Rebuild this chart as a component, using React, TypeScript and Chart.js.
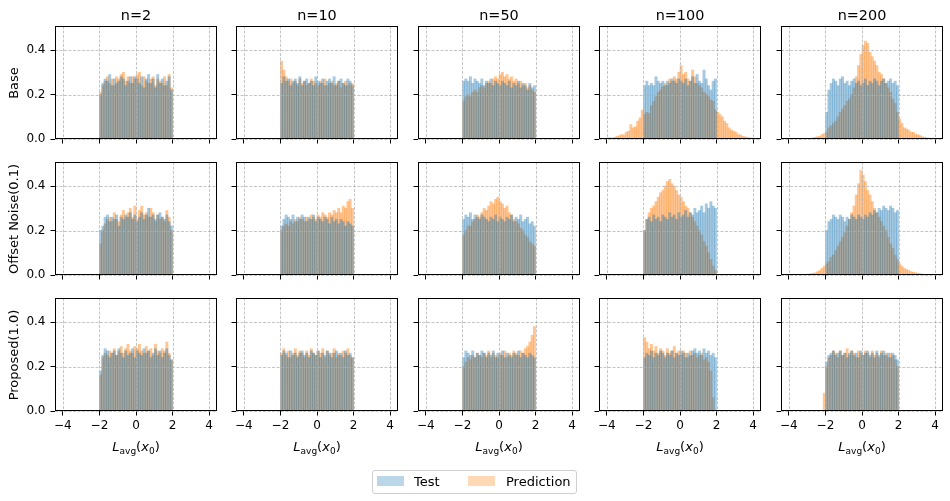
import { useEffect, useRef } from "react";
import { Chart, registerables } from "chart.js";

Chart.register(...registerables);

// ---- histogram settings -------------------------------------------------
const BIN_WIDTH = 0.125;
const COLUMN_TITLES = ["n=2", "n=10", "n=50", "n=100", "n=200"];
const ROW_TITLES = ["Base", "Offset Noise(0.1)", "Proposed(1.0)"];
const X_TICKS = [-4, -2, 0, 2, 4];
const Y_TICKS = [0, 0.2, 0.4];
const X_MIN = -4.43;
const X_MAX = 4.43;
const Y_MAX = 0.508;

// ---- densities (one value per bin, starting at the given left edge) -----
// Base
const BASE_N2_TEST = [0.2, 0.25, 0.27, 0.26, 0.29, 0.24, 0.27, 0.25, 0.26, 0.28, 0.27, 0.24, 0.26, 0.28, 0.25, 0.28, 0.27, 0.25, 0.28, 0.23, 0.27, 0.29, 0.25, 0.27, 0.23, 0.29, 0.25, 0.27, 0.24, 0.26, 0.28, 0.22];
const BASE_N2_PRED = [0.21, 0.24, 0.26, 0.28, 0.25, 0.27, 0.24, 0.28, 0.27, 0.29, 0.3, 0.26, 0.28, 0.25, 0.28, 0.27, 0.29, 0.3, 0.24, 0.28, 0.26, 0.25, 0.27, 0.28, 0.24, 0.27, 0.26, 0.25, 0.28, 0.24, 0.29, 0.23];
const BASE_N10_TEST = [0.25, 0.28, 0.26, 0.27, 0.24, 0.26, 0.27, 0.25, 0.28, 0.24, 0.26, 0.27, 0.25, 0.26, 0.24, 0.28, 0.26, 0.25, 0.27, 0.24, 0.26, 0.27, 0.25, 0.28, 0.24, 0.26, 0.27, 0.25, 0.24, 0.27, 0.26, 0.24];
const BASE_N10_PRED = [0.35, 0.31, 0.28, 0.26, 0.27, 0.25, 0.26, 0.24, 0.27, 0.25, 0.26, 0.24, 0.25, 0.27, 0.26, 0.25, 0.24, 0.26, 0.25, 0.27, 0.24, 0.25, 0.26, 0.24, 0.25, 0.26, 0.23, 0.25, 0.26, 0.24, 0.25, 0.25];
const BASE_N50_TEST = [0.26, 0.27, 0.26, 0.28, 0.25, 0.27, 0.26, 0.25, 0.27, 0.24, 0.26, 0.25, 0.27, 0.24, 0.26, 0.25, 0.24, 0.26, 0.25, 0.24, 0.26, 0.23, 0.25, 0.24, 0.26, 0.23, 0.25, 0.24, 0.22, 0.25, 0.23, 0.24];
const BASE_N50_PRED = [0.17, 0.19, 0.2, 0.19, 0.21, 0.22, 0.21, 0.23, 0.24, 0.23, 0.25, 0.26, 0.25, 0.27, 0.28, 0.27, 0.29, 0.3, 0.28, 0.29, 0.27, 0.28, 0.26, 0.27, 0.25, 0.26, 0.24, 0.25, 0.23, 0.24, 0.22, 0.21];
const BASE_N100_TEST = [0.24, 0.26, 0.24, 0.25, 0.24, 0.28, 0.26, 0.25, 0.26, 0.24, 0.26, 0.25, 0.27, 0.26, 0.25, 0.27, 0.26, 0.25, 0.27, 0.24, 0.26, 0.28, 0.25, 0.29, 0.26, 0.25, 0.31, 0.27, 0.24, 0.22, 0.26, 0.27];
const BASE_N100_PRED = [
  0.005, 0.006, 0.004, 0.008, 0.012, 0.015, 0.02, 0.018, 0.03, 0.035, 0.065, 0.05, 0.055, 0.08, 0.095, 0.13,
  0.11, 0.12, 0.115, 0.15, 0.17, 0.19, 0.21, 0.22, 0.235, 0.25, 0.24, 0.27, 0.26, 0.28, 0.27, 0.3,
  0.33, 0.29, 0.3, 0.27, 0.26, 0.31, 0.28, 0.25, 0.24, 0.23, 0.21, 0.2, 0.19, 0.175, 0.17, 0.13,
  0.12, 0.11, 0.1, 0.08, 0.07, 0.05, 0.04, 0.035, 0.03, 0.02, 0.018, 0.012, 0.01, 0.007, 0.005, 0.004,
];
const BASE_N200_TEST = [0.12, 0.22, 0.25, 0.27, 0.26, 0.24, 0.27, 0.28, 0.25, 0.26, 0.24, 0.26, 0.27, 0.25, 0.26, 0.24, 0.25, 0.27, 0.24, 0.26, 0.25, 0.27, 0.26, 0.24, 0.26, 0.27, 0.25, 0.26, 0.27, 0.25, 0.26, 0.24];
const BASE_N200_PRED = [
  0.005, 0.008, 0.01, 0.012, 0.02, 0.025,
  0.03, 0.05, 0.06, 0.07, 0.08, 0.1, 0.12, 0.135, 0.15, 0.17, 0.18, 0.2, 0.23, 0.28, 0.33, 0.38,
  0.42, 0.44, 0.43, 0.39, 0.37, 0.35, 0.33, 0.3, 0.29, 0.27, 0.25, 0.23, 0.21, 0.18, 0.16, 0.12,
  0.09, 0.07, 0.05, 0.045, 0.04, 0.03, 0.03, 0.02, 0.02, 0.015, 0.01, 0.008, 0.005, 0.004,
];

// Offset Noise(0.1)
const NOISE_N2_TEST = [0.2, 0.22, 0.26, 0.27, 0.24, 0.26, 0.25, 0.27, 0.22, 0.26, 0.25, 0.27, 0.26, 0.28, 0.25, 0.27, 0.24, 0.26, 0.28, 0.25, 0.27, 0.3, 0.26, 0.27, 0.25, 0.27, 0.28, 0.26, 0.25, 0.27, 0.24, 0.22];
const NOISE_N2_PRED = [0.14, 0.2, 0.23, 0.25, 0.26, 0.24, 0.28, 0.25, 0.24, 0.27, 0.29, 0.26, 0.28, 0.3, 0.26, 0.31, 0.25, 0.29, 0.31, 0.27, 0.28, 0.26, 0.3, 0.28, 0.24, 0.27, 0.25, 0.26, 0.24, 0.29, 0.26, 0.2];
const NOISE_N10_TEST = [0.22, 0.25, 0.27, 0.26, 0.25, 0.27, 0.24, 0.26, 0.25, 0.27, 0.26, 0.24, 0.26, 0.25, 0.27, 0.24, 0.26, 0.25, 0.24, 0.26, 0.25, 0.23, 0.26, 0.24, 0.25, 0.23, 0.25, 0.24, 0.22, 0.24, 0.23, 0.22];
const NOISE_N10_PRED = [0.2, 0.22, 0.23, 0.22, 0.24, 0.23, 0.25, 0.24, 0.26, 0.25, 0.24, 0.26, 0.25, 0.27, 0.26, 0.25, 0.27, 0.26, 0.28, 0.27, 0.26, 0.28, 0.27, 0.29, 0.28, 0.3, 0.28, 0.31, 0.3, 0.33, 0.34, 0.3];
const NOISE_N50_TEST = [0.25, 0.27, 0.26, 0.28, 0.25, 0.27, 0.26, 0.25, 0.27, 0.26, 0.25, 0.24, 0.26, 0.25, 0.27, 0.24, 0.26, 0.25, 0.24, 0.26, 0.25, 0.27, 0.24, 0.26, 0.25, 0.27, 0.24, 0.25, 0.26, 0.23, 0.24, 0.22];
const NOISE_N50_PRED = [0.18, 0.2, 0.22, 0.22, 0.24, 0.25, 0.27, 0.26, 0.28, 0.3, 0.29, 0.31, 0.33, 0.32, 0.34, 0.35, 0.33, 0.32, 0.3, 0.31, 0.28, 0.27, 0.25, 0.24, 0.23, 0.21, 0.2, 0.18, 0.17, 0.15, 0.14, 0.13];
const NOISE_N100_TEST = [0.2, 0.25, 0.26, 0.24, 0.27, 0.25, 0.26, 0.24, 0.27, 0.26, 0.25, 0.28, 0.26, 0.27, 0.25, 0.28, 0.26, 0.27, 0.29, 0.26, 0.28, 0.27, 0.3, 0.28, 0.29, 0.31, 0.28, 0.32, 0.3, 0.33, 0.31, 0.3];
const NOISE_N100_PRED = [0.2, 0.25, 0.28, 0.3, 0.31, 0.33, 0.35, 0.37, 0.38, 0.4, 0.42, 0.43, 0.41, 0.4, 0.38, 0.36, 0.35, 0.33, 0.31, 0.3, 0.28, 0.26, 0.24, 0.22, 0.2, 0.18, 0.15, 0.13, 0.1, 0.07, 0.04, 0.02];
const NOISE_N200_TEST = [0.2, 0.24, 0.25, 0.27, 0.26, 0.25, 0.27, 0.26, 0.24, 0.26, 0.25, 0.27, 0.26, 0.25, 0.27, 0.26, 0.25, 0.27, 0.26, 0.28, 0.27, 0.29, 0.28, 0.3, 0.29, 0.31, 0.3, 0.29, 0.31, 0.3, 0.28, 0.29];
const NOISE_N200_PRED = [
  0.004, 0.006, 0.008, 0.01, 0.015, 0.02, 0.03, 0.04,
  0.05, 0.06, 0.08, 0.09, 0.11, 0.13, 0.15, 0.17, 0.19, 0.22, 0.25, 0.28, 0.31, 0.36, 0.41, 0.47,
  0.45, 0.42, 0.38, 0.36, 0.33, 0.3, 0.28, 0.26, 0.24, 0.22, 0.2, 0.17, 0.14, 0.12, 0.09, 0.07,
  0.05, 0.04, 0.03, 0.025, 0.02, 0.015, 0.012, 0.01, 0.008, 0.006, 0.004, 0.003,
];

// Proposed(1.0)
const PROP_N2_TEST = [0.18, 0.25, 0.28, 0.27, 0.24, 0.26, 0.27, 0.25, 0.28, 0.26, 0.24, 0.27, 0.25, 0.26, 0.28, 0.24, 0.27, 0.26, 0.25, 0.28, 0.26, 0.27, 0.24, 0.26, 0.28, 0.25, 0.27, 0.24, 0.26, 0.28, 0.25, 0.23];
const PROP_N2_PRED = [0.16, 0.24, 0.26, 0.25, 0.27, 0.26, 0.28, 0.25, 0.27, 0.29, 0.26, 0.28, 0.3, 0.27, 0.26, 0.29, 0.28, 0.3, 0.27, 0.26, 0.29, 0.27, 0.28, 0.25, 0.3, 0.27, 0.26, 0.28, 0.27, 0.31, 0.26, 0.23];
const PROP_N10_TEST = [0.25, 0.27, 0.26, 0.24, 0.27, 0.25, 0.26, 0.24, 0.26, 0.27, 0.25, 0.26, 0.24, 0.27, 0.26, 0.25, 0.27, 0.24, 0.26, 0.25, 0.27, 0.26, 0.24, 0.26, 0.27, 0.25, 0.26, 0.24, 0.27, 0.25, 0.26, 0.24];
const PROP_N10_PRED = [0.26, 0.28, 0.25, 0.27, 0.24, 0.26, 0.28, 0.25, 0.27, 0.26, 0.24, 0.27, 0.25, 0.28, 0.26, 0.25, 0.27, 0.26, 0.28, 0.24, 0.27, 0.25, 0.26, 0.28, 0.24, 0.26, 0.25, 0.27, 0.26, 0.28, 0.25, 0.24];
const PROP_N50_TEST = [0.24, 0.27, 0.26, 0.25, 0.27, 0.24, 0.26, 0.25, 0.27, 0.26, 0.24, 0.26, 0.25, 0.27, 0.24, 0.26, 0.25, 0.27, 0.24, 0.26, 0.25, 0.24, 0.26, 0.25, 0.27, 0.24, 0.26, 0.25, 0.24, 0.26, 0.25, 0.24];
const PROP_N50_PRED = [0.2, 0.22, 0.24, 0.23, 0.25, 0.24, 0.26, 0.25, 0.24, 0.26, 0.25, 0.27, 0.24, 0.26, 0.25, 0.24, 0.26, 0.25, 0.27, 0.24, 0.26, 0.25, 0.27, 0.26, 0.25, 0.27, 0.26, 0.28, 0.29, 0.31, 0.34, 0.38];
const PROP_N100_TEST = [0.24, 0.26, 0.25, 0.27, 0.24, 0.26, 0.25, 0.27, 0.26, 0.24, 0.26, 0.25, 0.27, 0.24, 0.26, 0.25, 0.27, 0.26, 0.24, 0.26, 0.25, 0.27, 0.28, 0.26, 0.27, 0.25, 0.28, 0.26, 0.27, 0.25, 0.26, 0.24];
const PROP_N100_PRED = [0.33, 0.31, 0.28, 0.3, 0.27, 0.29, 0.26, 0.28, 0.27, 0.25, 0.28, 0.26, 0.27, 0.29, 0.26, 0.27, 0.25, 0.27, 0.26, 0.24, 0.27, 0.25, 0.26, 0.24, 0.25, 0.26, 0.23, 0.24, 0.22, 0.18, 0.06, 0.0];
const PROP_N200_TEST = [0.22, 0.25, 0.26, 0.27, 0.25, 0.26, 0.27, 0.25, 0.26, 0.24, 0.26, 0.27, 0.25, 0.26, 0.24, 0.27, 0.25, 0.26, 0.27, 0.25, 0.26, 0.24, 0.27, 0.25, 0.26, 0.27, 0.25, 0.26, 0.24, 0.26, 0.25, 0.23];
const PROP_N200_PRED = [0.08, 0.2, 0.24, 0.25, 0.27, 0.26, 0.24, 0.27, 0.25, 0.26, 0.28, 0.25, 0.27, 0.26, 0.24, 0.27, 0.26, 0.25, 0.27, 0.26, 0.24, 0.27, 0.25, 0.26, 0.24, 0.27, 0.25, 0.26, 0.24, 0.26, 0.25, 0.23, 0.2];

// left bin edge of every series, per row / column
const TEST_START = [
  [-2, -2, -2, -2, -2],
  [-2, -2, -2, -2, -2],
  [-2, -2, -2, -2, -2],
];
const PRED_START = [
  [-2, -2, -2, -4, -2.75],
  [-2, -2, -2, -2, -3],
  [-2, -2, -2, -2, -2.125],
];
const TEST_SERIES = [
  [BASE_N2_TEST, BASE_N10_TEST, BASE_N50_TEST, BASE_N100_TEST, BASE_N200_TEST],
  [NOISE_N2_TEST, NOISE_N10_TEST, NOISE_N50_TEST, NOISE_N100_TEST, NOISE_N200_TEST],
  [PROP_N2_TEST, PROP_N10_TEST, PROP_N50_TEST, PROP_N100_TEST, PROP_N200_TEST],
];
const PRED_SERIES = [
  [BASE_N2_PRED, BASE_N10_PRED, BASE_N50_PRED, BASE_N100_PRED, BASE_N200_PRED],
  [NOISE_N2_PRED, NOISE_N10_PRED, NOISE_N50_PRED, NOISE_N100_PRED, NOISE_N200_PRED],
  [PROP_N2_PRED, PROP_N10_PRED, PROP_N50_PRED, PROP_N100_PRED, PROP_N200_PRED],
];

// ---- look ----------------------------------------------------------------
const FONT = "'DejaVu Sans', 'Liberation Sans', sans-serif";
const BLUE_BAR = "rgba(31, 119, 180, 0.4)";
const ORANGE_BAR = "rgba(255, 127, 14, 0.45)";
const BLUE_PATCH = "rgba(31, 119, 180, 0.3)";
const ORANGE_PATCH = "rgba(255, 127, 14, 0.3)";
const GRID_COLOR = "rgba(176, 176, 176, 0.9)";

const PANEL_LEFT = [55, 236, 418, 599, 781];
const PANEL_TOP = [26, 162, 298];
const PANEL_W = 162;
const PANEL_H = 113;
const Y_AXIS_W = 45;
const X_AXIS_H = 28;
const PAD_T = 6;
const PAD_R = 6;

const minus = (v: number) => (v < 0 ? "\u2212" + Math.abs(v) : String(v));

const toPoints = (start: number, values: number[]) =>
  values.map((y, i) => ({ x: start + BIN_WIDTH * (i + 0.5), y }));

// dashed grid drawn over the bars, then the four spines
const framePlugin = {
  id: "frame",
  afterDatasetsDraw(chart: any) {
    const { ctx, chartArea: a, scales } = chart;
    ctx.save();
    ctx.strokeStyle = GRID_COLOR;
    ctx.lineWidth = 0.8;
    ctx.setLineDash([3, 1.5]);
    X_TICKS.forEach((v) => {
      const px = Math.round(scales.x.getPixelForValue(v)) + 0.5;
      ctx.beginPath();
      ctx.moveTo(px, a.top);
      ctx.lineTo(px, a.bottom);
      ctx.stroke();
    });
    Y_TICKS.forEach((v) => {
      const py = Math.round(scales.y.getPixelForValue(v)) + 0.5;
      ctx.beginPath();
      ctx.moveTo(a.left, py);
      ctx.lineTo(a.right, py);
      ctx.stroke();
    });
    ctx.setLineDash([]);
    ctx.strokeStyle = "#000";
    ctx.lineWidth = 1;
    ctx.strokeRect(a.left + 0.5, a.top + 0.5, a.right - a.left - 1, a.bottom - a.top - 1);
    ctx.restore();
  },
};

function Panel({ row, col }: { row: number; col: number }) {
  const ref = useRef<HTMLCanvasElement>(null);
  const showX = row === ROW_TITLES.length - 1;
  const showY = col === 0;

  useEffect(() => {
    if (!ref.current) return;
    const barStyle = {
      grouped: false,
      barPercentage: 1,
      categoryPercentage: 1,
      borderWidth: 0,
    };
    const tickFont = { family: FONT, size: 12 };
    const chart = new Chart(ref.current, {
      type: "bar",
      data: {
        datasets: [
          {
            label: "Test",
            data: toPoints(TEST_START[row][col], TEST_SERIES[row][col]),
            backgroundColor: BLUE_BAR,
            ...barStyle,
          },
          {
            label: "Prediction",
            data: toPoints(PRED_START[row][col], PRED_SERIES[row][col]),
            backgroundColor: ORANGE_BAR,
            ...barStyle,
          },
        ],
      },
      options: {
        animation: false,
        responsive: false,
        events: [],
        layout: { padding: { left: 0, top: PAD_T, right: PAD_R, bottom: 0 } },
        plugins: { legend: { display: false }, tooltip: { enabled: false } },
        scales: {
          x: {
            type: "linear",
            offset: false,
            min: X_MIN,
            max: X_MAX,
            afterBuildTicks: (s: any) => {
              s.ticks = X_TICKS.map((v) => ({ value: v }));
            },
            afterFit: (s: any) => {
              s.height = X_AXIS_H;
              s.paddingLeft = 0;
              s.paddingRight = 0;
            },
            grid: { offset: false, drawOnChartArea: false, drawTicks: true, tickLength: 4.5, tickColor: "#000", tickWidth: 1 },
            border: { display: false },
            ticks: {
              display: showX,
              font: tickFont,
              color: "#000",
              padding: 3,
              maxRotation: 0,
              autoSkip: false,
              callback: (v: any) => minus(Number(v)),
            },
          },
          y: {
            type: "linear",
            min: 0,
            max: Y_MAX,
            afterBuildTicks: (s: any) => {
              s.ticks = Y_TICKS.map((v) => ({ value: v }));
            },
            afterFit: (s: any) => {
              s.width = Y_AXIS_W;
              s.paddingTop = 0;
              s.paddingBottom = 0;
            },
            grid: { drawOnChartArea: false, drawTicks: true, tickLength: 4.5, tickColor: "#000", tickWidth: 1 },
            border: { display: false },
            ticks: {
              display: showY,
              font: tickFont,
              color: "#000",
              padding: 5,
              autoSkip: false,
              callback: (v: any) => Number(v).toFixed(1),
            },
          },
        },
      } as any,
      plugins: [framePlugin],
    });
    return () => chart.destroy();
  }, [row, col, showX, showY]);

  const w = Y_AXIS_W + PANEL_W + PAD_R;
  const h = PAD_T + PANEL_H + X_AXIS_H;
  return (
    <canvas
      ref={ref}
      width={w}
      height={h}
      style={{
        position: "absolute",
        left: PANEL_LEFT[col] - Y_AXIS_W,
        top: PANEL_TOP[row] - PAD_T,
        width: w,
        height: h,
      }}
    />
  );
}

export default function App() {
  useEffect(() => {
    document.body.style.margin = "0";
  }, []);

  const text = { position: "absolute" as const, fontFamily: FONT, color: "#000", whiteSpace: "nowrap" as const, lineHeight: 1 };

  return (
    <div style={{ position: "relative", width: 950, height: 501, background: "#fff", overflow: "hidden" }}>
      {ROW_TITLES.map((_, r) =>
        COLUMN_TITLES.map((__, c) => <Panel key={`${r}-${c}`} row={r} col={c} />)
      )}

      {COLUMN_TITLES.map((t, c) => (
        <div
          key={t}
          style={{ ...text, left: PANEL_LEFT[c] + PANEL_W / 2, top: 8, fontSize: 14.4, transform: "translateX(-50%)" }}
        >
          {t}
        </div>
      ))}

      {ROW_TITLES.map((t, r) => (
        <div
          key={t}
          style={{
            ...text,
            left: 13,
            top: PANEL_TOP[r] + PANEL_H / 2,
            fontSize: 13,
            transform: "translate(-50%, -50%) rotate(-90deg)",
          }}
        >
          {t}
        </div>
      ))}

      {COLUMN_TITLES.map((t, c) => (
        <div
          key={"xl" + t}
          style={{ ...text, left: PANEL_LEFT[c] + PANEL_W / 2, top: 439.5, fontSize: 13, transform: "translateX(-50%)" }}
        >
          <i>L</i>
          <sub style={{ fontSize: 9, verticalAlign: "-3px" }}>avg</sub>(<i>x</i>
          <sub style={{ fontSize: 9, verticalAlign: "-3px" }}>0</sub>)
        </div>
      ))}

      {/* legend */}
      <div
        style={{
          position: "absolute",
          left: 372,
          top: 470,
          width: 205,
          height: 24,
          border: "1px solid #d0d0d0",
          borderRadius: 3,
          boxSizing: "border-box",
        }}
      />
      <div style={{ position: "absolute", left: 377, top: 476, width: 27, height: 10, background: BLUE_PATCH }} />
      <div style={{ ...text, left: 414, top: 474.5, fontSize: 13 }}>Test</div>
      <div style={{ position: "absolute", left: 468, top: 476, width: 27, height: 10, background: ORANGE_PATCH }} />
      <div style={{ ...text, left: 506, top: 474.5, fontSize: 13 }}>Prediction</div>
    </div>
  );
}
